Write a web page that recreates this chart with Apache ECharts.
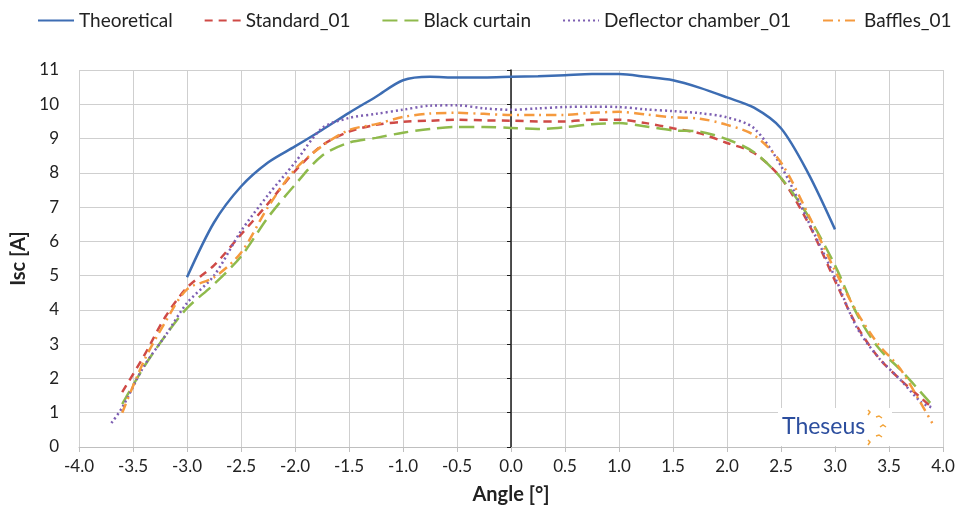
<!DOCTYPE html>
<html>
<head>
<meta charset="utf-8">
<script src="https://cdn.jsdelivr.net/npm/echarts@6/dist/echarts.min.js"></script>
<style>
  html, body { margin: 0; padding: 0; background: #fff; }
  #main { width: 959px; height: 512px; }
</style>
</head>
<body>
<div id="main"></div>
<script>
// angles for the theoretical curve
var theoAngles = [-3.0, -2.75, -2.5, -2.25, -2.0, -1.75, -1.5, -1.25, -1.0, -0.75, -0.5, -0.25, 0,
                  0.25, 0.5, 0.75, 1.0, 1.25, 1.5, 1.75, 2.0, 2.25, 2.5, 2.75, 3.0];
var theoretical = [4.95, 6.55, 7.6, 8.3, 8.77, 9.25, 9.75, 10.22, 10.7, 10.8, 10.78, 10.78, 10.8,
                   10.82, 10.85, 10.88, 10.88, 10.8, 10.7, 10.48, 10.2, 9.9, 9.3, 8.0, 6.35];

// angles for the measured curves
var expAngles = [-3.7, -3.6, -3.4, -3.2, -3.0, -2.75, -2.5, -2.25, -2.0, -1.75, -1.5, -1.25, -1.0, -0.75,
                 -0.5, -0.25, 0, 0.25, 0.5, 0.75, 1.0, 1.25, 1.5, 1.75, 2.0, 2.25, 2.5, 2.75, 3.0,
                 3.2, 3.4, 3.6, 3.8, 3.9];
var standard01 = [null, 1.6, 2.65, 3.8, 4.65, 5.3, 6.2, 7.1, 8.05, 8.8, 9.2, 9.4, 9.49, 9.52,
                  9.55, 9.53, 9.52, 9.5, 9.5, 9.55, 9.55, 9.45, 9.3, 9.15, 8.87, 8.58, 7.85, 6.55, 4.85,
                  3.55, 2.62, 1.98, 1.42, 1.15];
var blackCurtain = [null, 1.25, 2.33, 3.25, 4.05, 4.75, 5.56, 6.7, 7.65, 8.5, 8.88, 9.02, 9.17, 9.28,
                    9.34, 9.34, 9.31, 9.28, 9.33, 9.42, 9.45, 9.35, 9.24, 9.2, 8.98, 8.6, 7.85, 6.75, 5.3,
                    3.9, 2.9, 2.27, 1.58, 1.22];
var deflector01 = [0.7, 1.15, 2.35, 3.25, 4.2, 5.0, 6.3, 7.35, 8.3, 9.3, 9.6, 9.72, 9.84, 9.96,
                   9.97, 9.88, 9.84, 9.88, 9.92, 9.93, 9.92, 9.85, 9.8, 9.74, 9.62, 9.3, 8.2, 6.6, 4.95,
                   3.5, 2.62, 1.98, 1.3, 1.15];
var baffles01 = [null, 1.0, 2.5, 3.65, 4.6, 4.95, 5.67, 7.0, 8.1, 8.78, 9.25, 9.42, 9.63, 9.73,
                 9.75, 9.72, 9.69, 9.69, 9.69, 9.75, 9.78, 9.7, 9.62, 9.58, 9.4, 9.1, 8.3, 6.8, 5.15,
                 3.95, 3.0, 2.3, 1.25, 0.7];

var seriesNames = ['Theoretical', 'Standard_01', 'Black curtain', 'Deflector chamber_01', 'Baffles_01'];

function pairs(xs, ys) {
    var out = [];
    for (var i = 0; i < xs.length; i++) {
        out.push([xs[i], ys[i]]);
    }
    return out;
}

function lineSeries(name, data, color, type) {
    return {
        name: name,
        type: 'line',
        data: data,
        smooth: 0.3,
        symbol: 'none',
        connectNulls: false,
        lineStyle: { color: color, width: 2.5, type: type },
        itemStyle: { color: color }
    };
}

function squiggle(pts) {
    return { type: 'polyline', z: 12, shape: { points: pts }, style: { stroke: '#f2a43a', lineWidth: 1.5, fill: null } };
}

var font = 'Lato, "Open Sans", sans-serif';
var myChart = echarts.init(document.getElementById('main'), null, { renderer: 'canvas' });

var option = {
    animation: false,
    backgroundColor: '#fff',
    textStyle: { fontFamily: font },
    legend: {
        top: 6,
        left: 32,
        itemWidth: 36,
        itemHeight: 14,
        itemGap: 31,
        itemStyle: { opacity: 0 },
        textStyle: { fontSize: 19, color: '#222', fontFamily: font },
        data: seriesNames
    },
    grid: { left: 79, right: 16, top: 70, bottom: 65 },
    xAxis: {
        type: 'value',
        min: -4,
        max: 4,
        interval: 0.5,
        name: 'Angle [°]',
        nameLocation: 'middle',
        nameGap: 38,
        nameTextStyle: { fontSize: 20, fontWeight: 'bold', color: '#222', fontFamily: font },
        axisLine: { show: true, onZero: true, lineStyle: { color: '#bfbfbf', width: 1 } },
        axisTick: { show: true, length: 5, lineStyle: { color: '#bfbfbf' } },
        axisLabel: {
            fontSize: 17, color: '#222', margin: 11,
            formatter: function (v) { return v.toFixed(1); }
        },
        splitLine: { show: true, lineStyle: { color: '#cfcfcf', width: 1 } }
    },
    yAxis: [{
        type: 'value',
        min: 0,
        max: 11,
        interval: 1,
        position: 'left',
        name: 'Isc [A]',
        nameLocation: 'middle',
        nameGap: 46,
        nameTextStyle: { fontSize: 20, fontWeight: 'bold', color: '#222', fontFamily: font },
        axisLine: { show: false, onZero: false },
        axisTick: { show: false },
        axisLabel: { fontSize: 17, color: '#222', margin: 20 },
        splitLine: { show: true, lineStyle: { color: '#cfcfcf', width: 1 } }
    }, {
        type: 'value',
        min: 0,
        max: 11,
        interval: 1,
        position: 'left',
        axisLine: { show: true, onZero: true, lineStyle: { color: '#1a1a1a', width: 1.5 } },
        axisTick: { show: true, length: 4, lineStyle: { color: '#1a1a1a' } },
        axisLabel: { show: false },
        splitLine: { show: false }
    }],
    series: [
        lineSeries(seriesNames[0], pairs(theoAngles, theoretical), '#3d6db3', 'solid'),
        lineSeries(seriesNames[1], pairs(expAngles, standard01), '#cf4a46', [8, 6]),
        lineSeries(seriesNames[2], pairs(expAngles, blackCurtain), '#8fba4c', [15, 7]),
        lineSeries(seriesNames[3], pairs(expAngles, deflector01), '#7d5fb2', [2, 3]),
        lineSeries(seriesNames[4], pairs(expAngles, baffles01), '#f59a3e', [10, 5, 2, 5])
    ],
    graphic: [{
        type: 'rect',
        shape: { x: 778, y: 408, width: 114, height: 38 },
        style: { fill: '#fff' },
        z: 10
    }, {
        type: 'text',
        x: 782,
        y: 415,
        style: { text: 'Theseus', fontSize: 23, fill: '#2c4e9e', fontFamily: font },
        z: 11
    },
        squiggle([[868, 410], [870, 412], [868, 415]]),
        squiggle([[876, 417], [879, 416], [882, 418]]),
        squiggle([[880, 427], [883, 425], [886, 427]]),
        squiggle([[876, 436], [879, 435], [882, 437]]),
        squiggle([[868, 440], [870, 442], [868, 445]])
    ]
};

myChart.setOption(option);
</script>
</body>
</html>
